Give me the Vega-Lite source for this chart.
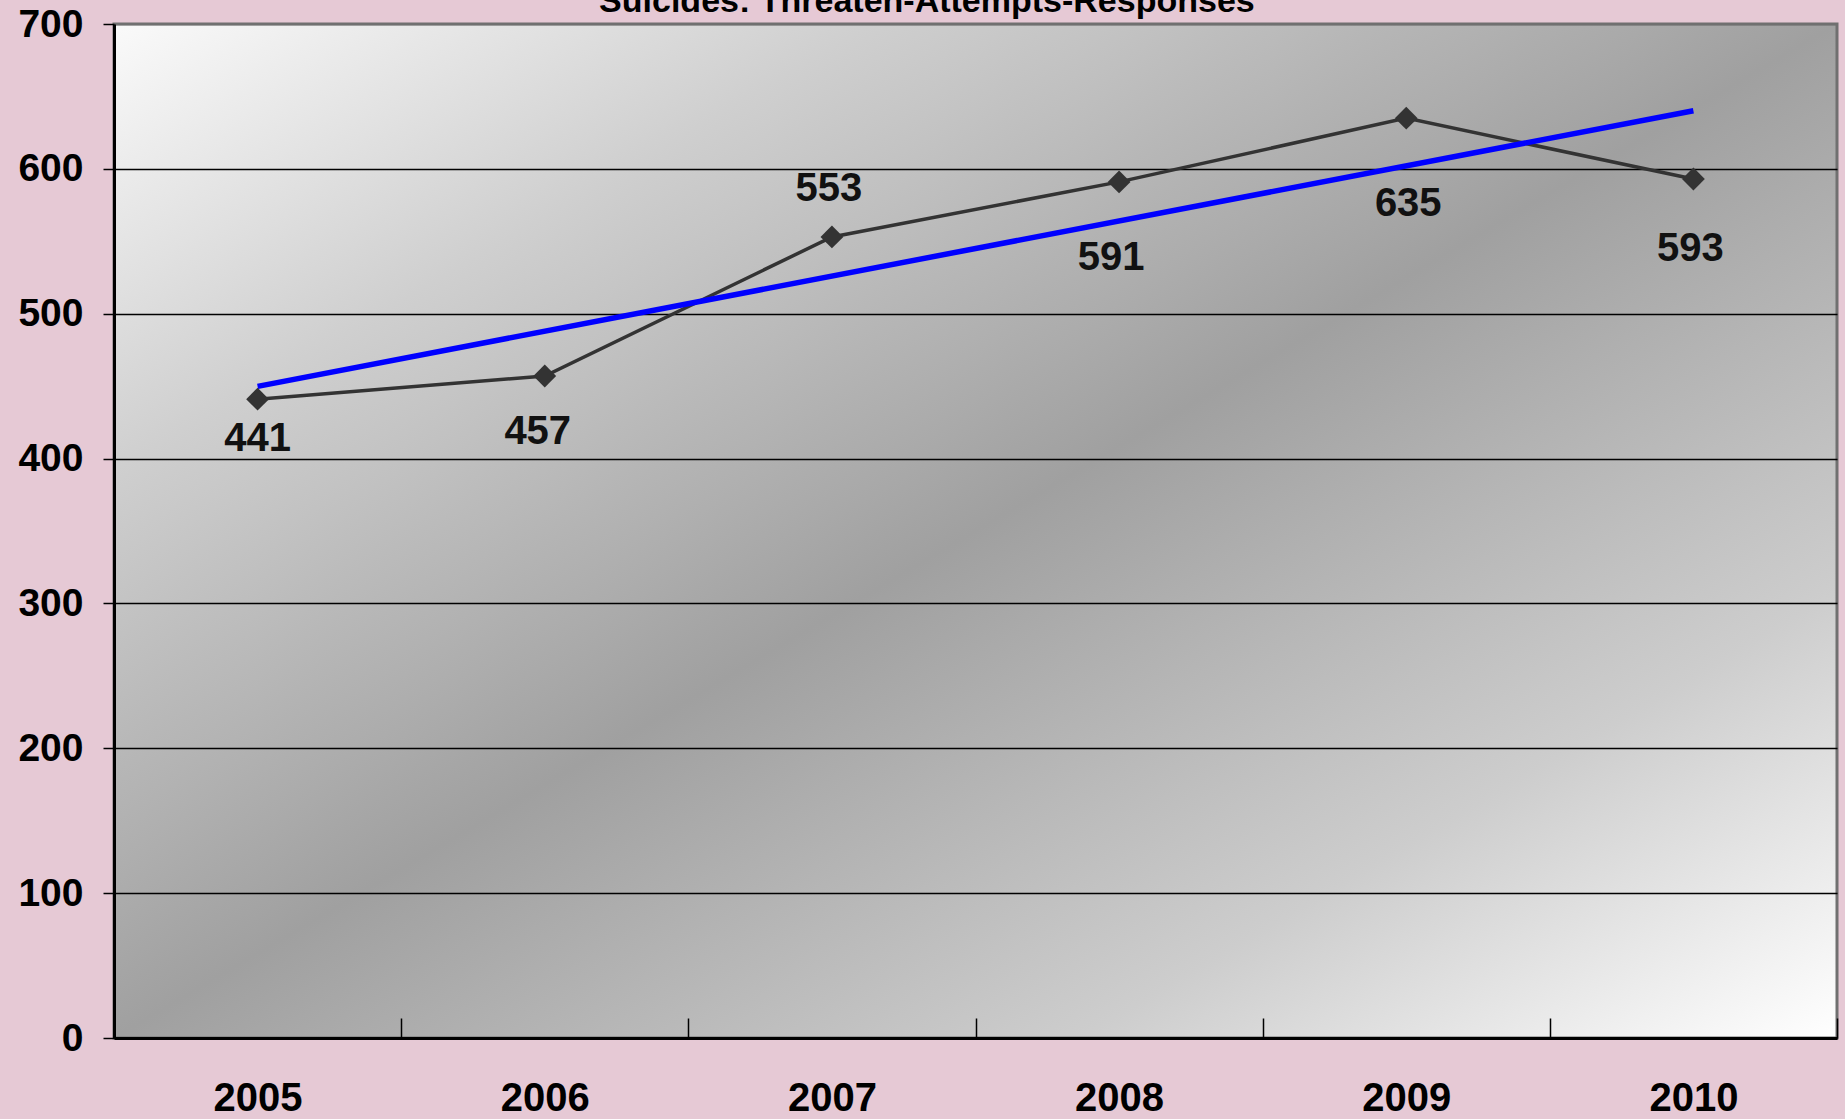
{
  "$schema": "https://vega.github.io/schema/vega-lite/v6.json",
  "width": 1723,
  "height": 1014,
  "autosize": {"type": "none"},
  "padding": {"left": 114, "top": 24, "right": 8, "bottom": 81},
  "background": "#e6c9d5",
  "config": {
    "view": {
      "fill": {
        "gradient": "linear",
        "x1": 0, "y1": 0, "x2": 1, "y2": 1,
        "stops": [
          {"offset": 0, "color": "#fafafa"},
          {"offset": 0.22, "color": "#cfcfcf"},
          {"offset": 0.5, "color": "#a0a0a0"},
          {"offset": 0.78, "color": "#cdcdcd"},
          {"offset": 1, "color": "#ffffff"}
        ]
      },
      "stroke": "#707070",
      "strokeWidth": 3
    }
  },
  "data": {
    "values": [
      {"year": 2005, "count": 441},
      {"year": 2006, "count": 457},
      {"year": 2007, "count": 553},
      {"year": 2008, "count": 591},
      {"year": 2009, "count": 635},
      {"year": 2010, "count": 593}
    ]
  },
  "encoding": {
    "x": {
      "field": "year",
      "type": "ordinal",
      "scale": {"paddingInner": 0, "paddingOuter": 0},
      "axis": {
        "title": null,
        "labelAngle": 0,
        "grid": false,
        "tickBand": "extent",
        "tickSize": -20,
        "tickColor": "#000000",
        "tickWidth": 1.5,
        "domainColor": "#000000",
        "domainWidth": 3,
        "labelFont": "Liberation Sans",
        "labelFontSize": 40,
        "labelFontWeight": "bold",
        "labelColor": "#000000",
        "labelPadding": 60
      }
    },
    "y": {
      "field": "count",
      "type": "quantitative",
      "scale": {"domain": [0, 700], "nice": false},
      "axis": {
        "title": null,
        "values": [0, 100, 200, 300, 400, 500, 600, 700],
        "grid": true,
        "gridColor": {"condition": {"test": "datum.value === 700", "value": "#707070"}, "value": "#000000"},
        "gridWidth": 1.5,
        "tickSize": 11,
        "tickColor": "#000000",
        "tickWidth": 1.5,
        "domainColor": "#000000",
        "domainWidth": 3,
        "labelFont": "Liberation Sans",
        "labelFontSize": 39,
        "labelFontWeight": "bold",
        "labelColor": "#000000",
        "labelPadding": 20
      }
    }
  },
  "layer": [
    {"mark": {"type": "line", "color": "#333333", "strokeWidth": 3.5}},
    {
      "transform": [{"regression": "count", "on": "year"}],
      "mark": {"type": "line", "color": "#0000ff", "strokeWidth": 5.5}
    },
    {"mark": {"type": "point", "shape": "diamond", "filled": true, "color": "#333333", "size": 520, "opacity": 1}},
    {
      "transform": [{"filter": "datum.year === 2005"}],
      "mark": {"type": "text", "font": "Liberation Sans", "fontSize": 40, "fontWeight": "bold", "color": "#111111", "baseline": "middle", "dy": 40},
      "encoding": {"text": {"field": "count", "type": "quantitative"}}
    },
    {
      "transform": [{"filter": "datum.year === 2006"}],
      "mark": {"type": "text", "font": "Liberation Sans", "fontSize": 40, "fontWeight": "bold", "color": "#111111", "baseline": "middle", "dy": 56, "dx": -7},
      "encoding": {"text": {"field": "count", "type": "quantitative"}}
    },
    {
      "transform": [{"filter": "datum.year === 2007"}],
      "mark": {"type": "text", "font": "Liberation Sans", "fontSize": 40, "fontWeight": "bold", "color": "#111111", "baseline": "middle", "dy": -48, "dx": -3},
      "encoding": {"text": {"field": "count", "type": "quantitative"}}
    },
    {
      "transform": [{"filter": "datum.year === 2008"}],
      "mark": {"type": "text", "font": "Liberation Sans", "fontSize": 40, "fontWeight": "bold", "color": "#111111", "baseline": "middle", "dy": 76, "dx": -8},
      "encoding": {"text": {"field": "count", "type": "quantitative"}}
    },
    {
      "transform": [{"filter": "datum.year === 2009"}],
      "mark": {"type": "text", "font": "Liberation Sans", "fontSize": 40, "fontWeight": "bold", "color": "#111111", "baseline": "middle", "dy": 86, "dx": 2},
      "encoding": {"text": {"field": "count", "type": "quantitative"}}
    },
    {
      "transform": [{"filter": "datum.year === 2010"}],
      "mark": {"type": "text", "font": "Liberation Sans", "fontSize": 40, "fontWeight": "bold", "color": "#111111", "baseline": "middle", "dy": 70, "dx": -3},
      "encoding": {"text": {"field": "count", "type": "quantitative"}}
    },
    {
      "transform": [{"filter": "datum.year === 2007"}],
      "mark": {"type": "text", "font": "Liberation Sans", "fontSize": 34, "fontWeight": "bold", "color": "#000000", "baseline": "alphabetic", "align": "center", "clip": false, "dy": -225, "dx": 95},
      "encoding": {"text": {"value": "Suicides: Threaten-Attempts-Responses"}}
    }
  ]
}
